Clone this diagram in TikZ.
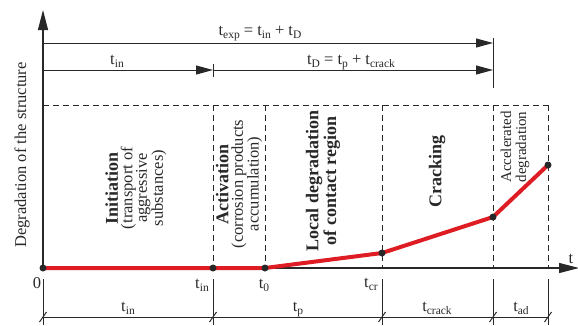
\documentclass[tikz,border=0pt]{standalone}
\usepackage{fontspec}
\setmainfont{Liberation Serif}
\usetikzlibrary{arrows.meta}
\definecolor{ink}{RGB}{40,40,40}
\definecolor{degred}{RGB}{222,28,36}
\newcommand{\tq}[1]{t\raisebox{-0.4ex}{\fontsize{11.5}{12}\selectfont #1}}
\newcommand{\ttl}[1]{{\fontsize{18}{15}\selectfont\bfseries #1}}
\begin{document}
\begin{tikzpicture}[x=1pt,y=-1pt,font=\fontsize{16.5}{14.5}\selectfont]
\tikzset{
  axisline/.style={line width=1.2pt,draw=ink},
  axisarrow/.style={-{Triangle[length=20pt,width=10pt]}},
  dimline/.style={line width=1pt,draw=ink},
  dimarrow/.style={-{Triangle[length=17pt,width=9pt]}},
  divider/.style={line width=0.9pt,draw=ink,dash pattern=on 6pt off 4pt},
  curve/.style={line width=4pt,draw=degred},
  dot/.style={circle,fill=ink,inner sep=0pt,minimum size=7pt},
  lbl/.style={anchor=base,inner sep=0pt,text=ink},
  phase/.style={rotate=90,align=center,inner sep=0pt,text=ink,font=\fontsize{16.5}{14.5}\selectfont},
}
\useasboundingbox (0,0) rectangle (578,325);

% coordinates
\coordinate (O) at (43,268);
\coordinate (Ytop) at (43,10);
\coordinate (Xend) at (579,268);

% dashed phase boxes
\coordinate (b0) at (43,105);
\coordinate (b1) at (213,105);
\coordinate (b2) at (265,105);
\coordinate (b3) at (382,105);
\coordinate (b4) at (493,105);
\coordinate (b5) at (548,105);
\coordinate (g1) at (213,268);
\coordinate (g2) at (265,268);
\coordinate (g3) at (382,268);
\coordinate (g4) at (493,268);
\coordinate (g5) at (548,268);
\draw[divider] (b0) -- (b5);
\foreach \i in {1,...,5}{\draw[divider] (b\i) -- (g\i);}

% axes
\draw[axisline,axisarrow] (O) -- (Ytop);
\draw[axisline,axisarrow] (O) -- (Xend);
\node[lbl] (tax) at (571,263) {t};
\node[rotate=90,inner sep=0pt,text=ink] (ylab) at (22,155) {Degradation of the structure};

% top dimension arrows
\coordinate (T0) at (43,43);
\coordinate (T1) at (493,43);
\coordinate (M0) at (43,70);
\coordinate (M1) at (213,70);
\coordinate (M2) at (493,70);
\coordinate (k1a) at (213,64);
\coordinate (k1b) at (213,77);
\coordinate (k2a) at (493,38);
\coordinate (k2b) at (493,88);
\draw[dimline,dimarrow] (T0) -- (T1);
\draw[dimline,dimarrow] (M0) -- (M1);
\draw[dimline,dimarrow] (M1) -- (M2);
\draw[dimline] (k1a) -- (k1b);
\draw[dimline] (k2a) -- (k2b);
\node[lbl] (texp) at (260,35) {\tq{exp} = \tq{in} + \tq{D}};
\node[lbl] (tintop) at (117,64) {\tq{in}};
\node[lbl] (tD) at (351,64) {\tq{D} = \tq{p} + \tq{crack}};

% degradation curve
\coordinate (c0) at (43,268);
\coordinate (c1) at (213,268);
\coordinate (c2) at (265,268);
\coordinate (c3) at (382,253);
\coordinate (c4) at (493,217);
\coordinate (c5) at (548,165);
\draw[curve] (c0) -- (c1) -- (c2) -- (c3) -- (c4) -- (c5);
\foreach \i in {0,...,5}{\node[dot] (d\i) at (c\i) {};}

% axis tick labels
\node[lbl] (l0) at (37,288) {0};
\node[lbl] (lin) at (202,288) {\tq{in}};
\node[lbl] (lt0) at (264,288) {\tq{0}};
\node[lbl] (lcr) at (371,287) {\tq{cr}};

% bottom dimension chain
\foreach \x [count=\i] in {43,213,382,493,548}{
  \coordinate (v\i a) at (\x,279);
  \coordinate (v\i b) at (\x,325);
  \coordinate (B\i) at (\x,317);
  \coordinate (s\i a) at (\x-3.5,322);
  \coordinate (s\i b) at (\x+3.5,312);
  \draw[dimline] (v\i a) -- (v\i b);
  \draw[dimline] (s\i a) -- (s\i b);
}
\draw[dimline] (B1) -- (B5);
\node[lbl] (bin) at (128,311) {\tq{in}};
\node[lbl] (bp) at (298,311) {\tq{p}};
\node[lbl] (bcrack) at (437,311) {\tq{crack}};
\node[lbl] (bad) at (521,311) {\tq{ad}};

% phase labels
\node[phase] (ini) at (136,188) {\ttl{Initiation}\\(transport of\\aggressive\\substances)};
\node[phase] (act) at (239,184) {\ttl{Activation}\\(corrosion products\\accumulation)};
\node[phase] (loc) at (323,181) {\ttl{Local degradation}\\\ttl{of contact region}};
\node[phase] (crk) at (437,171) {\ttl{Cracking}};
\node[phase,font=\fontsize{15}{15}\selectfont] (acc) at (515,147) {Accelerated\\degradation};
\end{tikzpicture}
\end{document}
